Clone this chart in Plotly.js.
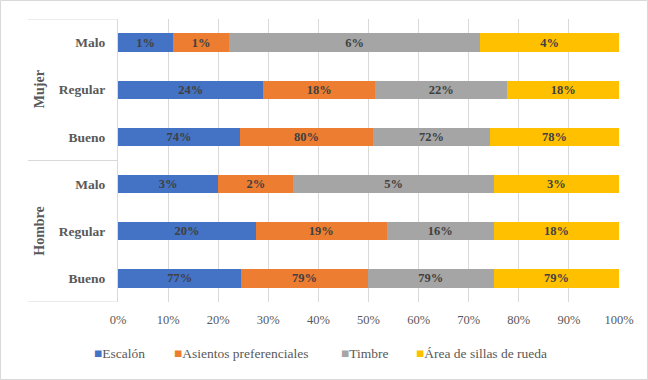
<!DOCTYPE html>
<html>
<head>
<meta charset="utf-8">
<script src="https://cdn.plot.ly/plotly-3.0.1.min.js"></script>
<style>html,body{margin:0;padding:0;background:#fff;}#chart{width:648px;height:380px;}</style>
</head>
<body>
<div id="chart"></div>
<script>
// ---- data ----
const groups = ['Mujer', 'Hombre'];
const levels = ['Malo', 'Regular', 'Bueno'];
const seriesNames = ['Escalón', 'Asientos preferenciales', 'Timbre', 'Área de sillas de rueda'];
// segment widths (% of each bar), top-to-bottom: Mujer Malo, Regular, Bueno, Hombre Malo, Regular, Bueno
const escalon  = [11.0, 29.0, 24.4, 20.0, 27.5, 24.6];
const asientos = [11.2, 22.3, 26.4, 15.0, 26.1, 25.2];
const timbre   = [50.1, 26.4, 23.5, 40.0, 21.4, 25.2];
const area     = [27.7, 22.3, 25.7, 25.0, 25.0, 25.0];
// printed labels
const escalonLbl  = ['1%', '24%', '74%', '3%', '20%', '77%'];
const asientosLbl = ['1%', '18%', '80%', '2%', '19%', '79%'];
const timbreLbl   = ['6%', '22%', '72%', '5%', '16%', '79%'];
const areaLbl     = ['4%', '18%', '78%', '3%', '18%', '79%'];
const xTicks = [0, 10, 20, 30, 40, 50, 60, 70, 80, 90, 100];

// ---- build ----
const colors = ['#4472C4', '#ED7D31', '#A5A5A5', '#FFC000'];
const serif = 'Liberation Serif, Times New Roman, serif';
const rows = [];
groups.forEach(g => levels.forEach(l => rows.push({g, l})));
const yIdx = rows.map((r, i) => i);
const vals = [escalon, asientos, timbre, area];
const lbls = [escalonLbl, asientosLbl, timbreLbl, areaLbl];

const traces = vals.map((v, k) => ({
  type: 'bar', orientation: 'h', name: seriesNames[k],
  x: v, y: yIdx, text: lbls[k], texttemplate: '%{text}',
  textposition: 'inside', insidetextanchor: 'middle', textangle: 0,
  constraintext: 'none',
  insidetextfont: {family: serif, size: 12.5, color: '#404040', weight: 'bold'},
  marker: {color: colors[k], line: {width: 0}},
  showlegend: false, hoverinfo: 'skip'
}));

// plot-area geometry helpers (paper coords)
const L = 118, R = 619, T = 19, B = 302;
const px = x => (x - L) / (R - L);
const py = y => (B - y) / (B - T);

const annotations = [];
groups.forEach((g, gi) => {
  annotations.push({
    text: g, xref: 'paper', yref: 'y', x: px(39.5), y: gi * levels.length + (levels.length - 1) / 2,
    textangle: -90, showarrow: false, xanchor: 'center', yanchor: 'middle',
    font: {family: serif, size: 14, color: '#595959', weight: 'bold'}
  });
});
// legend
const legX = [92, 172, 339, 414];
seriesNames.forEach((n, k) => {
  annotations.push({
    text: '<span style="color:' + colors[k] + '">■</span>' + n,
    xref: 'paper', yref: 'paper', x: px(legX[k]), y: py(353),
    xanchor: 'left', yanchor: 'middle', showarrow: false,
    font: {family: serif, size: 13.5, color: '#595959'}
  });
});

const line = {color: '#d9d9d9', width: 1};
const shapes = [];
for (let i = 0; i <= groups.length; i++) {
  shapes.push({type: 'line', xref: 'paper', yref: 'y', x0: px(28), x1: 0,
    y0: i * levels.length - 0.5, y1: i * levels.length - 0.5, line});
}
shapes.push({type: 'rect', xref: 'paper', yref: 'paper', x0: px(0.5), x1: px(647.5),
  y0: py(379.5), y1: py(0.5), line, fillcolor: 'rgba(0,0,0,0)', layer: 'below'});

const layout = {
  width: 648, height: 380,
  margin: {l: L, r: 648 - R, t: T, b: 380 - B, pad: 0},
  barmode: 'stack', bargap: 0.61,
  paper_bgcolor: '#fff', plot_bgcolor: '#fff',
  font: {family: serif, color: '#595959'},
  showlegend: false,
  xaxis: {
    range: [0, 100], tickvals: xTicks, ticktext: xTicks.map(v => v + '%'),
    showgrid: true, gridcolor: '#d9d9d9', gridwidth: 1, zeroline: false, showline: false,
    ticks: '', ticklabelstandoff: 8, tickfont: {family: serif, size: 12.5, color: '#595959'}
  },
  yaxis: {
    range: [rows.length - 0.5, -0.5], tickvals: yIdx, ticktext: rows.map(r => r.l),
    showgrid: false, zeroline: false, showline: true, linecolor: '#d9d9d9', linewidth: 1,
    ticks: '', ticklabelstandoff: 9,
    tickfont: {family: serif, size: 13.5, color: '#595959', weight: 'bold'}
  },
  annotations, shapes
};

Plotly.newPlot('chart', traces, layout, {displayModeBar: false, staticPlot: true});
</script>
</body>
</html>
